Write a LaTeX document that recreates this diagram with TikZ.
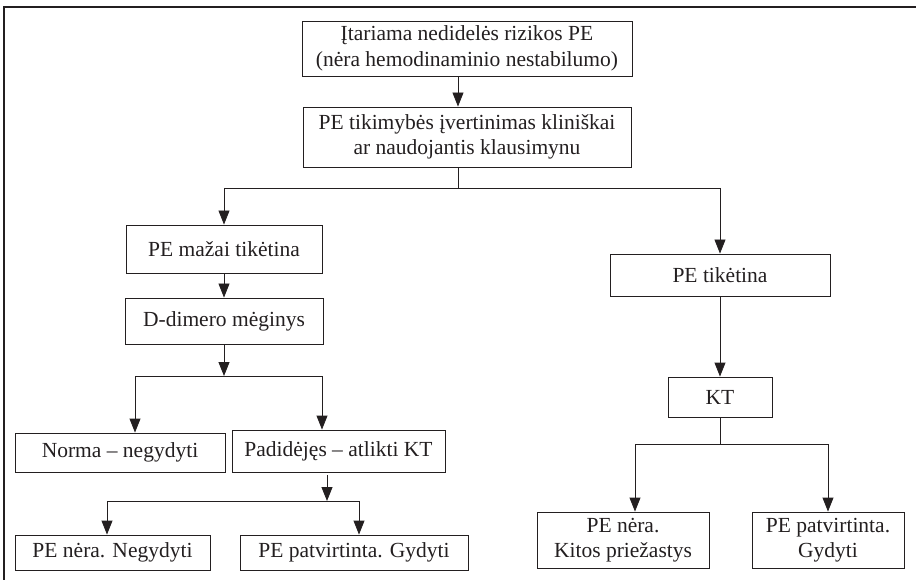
\documentclass[tikz,border=0pt]{standalone}
\usepackage{fontspec}
\setmainfont{Liberation Serif}
\usepackage{tikz}
\usetikzlibrary{arrows.meta}
\definecolor{ink}{RGB}{35,31,32}
\tikzset{
    box/.style={draw=ink,text=ink,line width=0.9pt,inner sep=0pt,align=center,
        font=\fontsize{21.5}{25.5}\selectfont},
    arr/.style={draw=ink,line width=0.9pt,-{Triangle[length=14pt,width=11pt]}},
    line/.style={draw=ink,line width=0.9pt}
}

\begin{document}
\begin{tikzpicture}[x=1pt,y=-1pt]
    \useasboundingbox (0,0) rectangle (916,580);
    \draw[ink,line width=1.4pt] (916,7) -- (4,7) -- (4,580);

    \node[box,minimum width=330pt,minimum height=55pt] (top) at (467,48.5) {Įtariama nedidelės rizikos PE\\(nėra hemodinaminio nestabilumo)};
    \node[box,minimum width=328pt,minimum height=60pt] (eval) at (467,137) {PE tikimybės įvertinimas kliniškai\\ar naudojantis klausimynu};
    \node[box,minimum width=196pt,minimum height=48pt] (low) at (224,249) {PE mažai tikėtina};
    \node[box,minimum width=198pt,minimum height=46pt] (ddimer) at (224,321) {D-dimero mėginys};
    \node[box,minimum width=210pt,minimum height=39pt] (norma) at (120,452.5) {Norma – negydyti};
    \node[box,minimum width=213pt,minimum height=42pt] (padid) at (338.5,451) {Padidėjęs – atlikti KT};
    \node[box,minimum width=195pt,minimum height=35pt] (nonl) at (112.5,552.5) {PE nėra. Negydyti};
    \node[box,minimum width=228pt,minimum height=35pt] (yesl) at (354,552.5) {PE patvirtinta. Gydyti};
    \node[box,minimum width=220pt,minimum height=42pt] (likely) at (720,275) {PE tikėtina};
    \node[box,minimum width=104pt,minimum height=40pt] (kt) at (720,397) {KT};
    \node[box,minimum width=172pt,minimum height=56pt] (nor) at (623,540) {PE nėra.\\Kitos priežastys};
    \node[box,minimum width=152pt,minimum height=56pt] (yesr) at (828,540) {PE patvirtinta.\\Gydyti};

    % split points
    \coordinate (s1) at (458,188);
    \coordinate (s2) at (224,376);
    \coordinate (s2l) at (135,376);
    \coordinate (s2r) at (322,376);
    \coordinate (s3) at (327,501);
    \coordinate (s3l) at (107,501);
    \coordinate (s3r) at (359,501);
    \coordinate (s4) at (720,444);
    \coordinate (s4l) at (635,444);
    \coordinate (s4r) at (828,444);

    \draw[arr] (top.south -| s1) -- (eval.north -| s1);
    \draw[line] (eval.south -| s1) -- (s1);
    \draw[line] (s1 -| low) -- (s1 -| likely);
    \draw[arr] (s1 -| low) -- (low.north);
    \draw[arr] (s1 -| likely) -- (likely.north);

    \draw[arr] (low.south) -- (ddimer.north);
    \draw[arr] (ddimer.south) -- (s2);
    \draw[line] (s2l) -- (s2r);
    \draw[arr] (s2l) -- (s2l |- norma.north);
    \draw[arr] (s2r) -- (s2r |- padid.north);

    \draw[arr,shorten <=3pt] (padid.south -| s3) -- (s3);
    \draw[line] (s3l) -- (s3r);
    \draw[arr] (s3l) -- (s3l |- nonl.north);
    \draw[arr] (s3r) -- (s3r |- yesl.north);

    \draw[arr] (likely.south) -- (kt.north);
    \draw[line] (kt.south) -- (s4);
    \draw[line] (s4l) -- (s4r);
    \draw[arr] (s4l) -- (s4l |- nor.north);
    \draw[arr] (s4r) -- (s4r |- yesr.north);
\end{tikzpicture}
\end{document}
